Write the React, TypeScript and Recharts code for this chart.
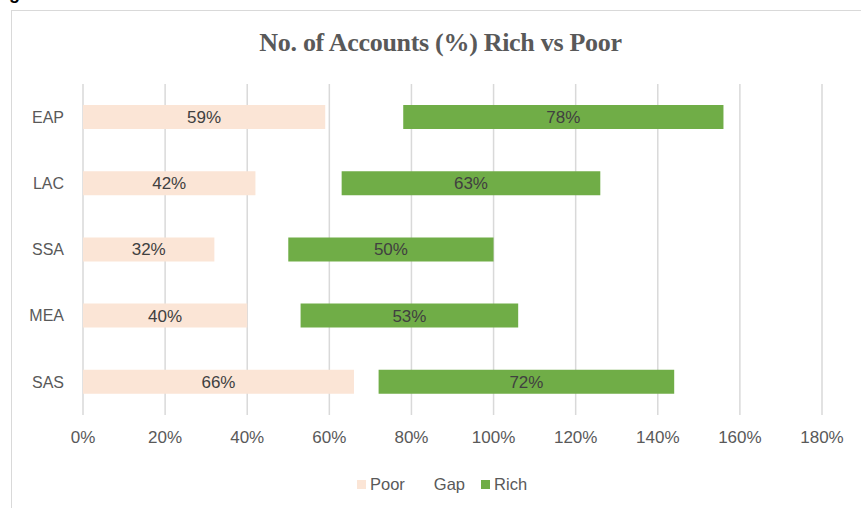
import { Bar, BarChart, CartesianGrid, LabelList, XAxis, YAxis } from "recharts";

const regions = ["EAP", "LAC", "SSA", "MEA", "SAS"];
const poor = [59, 42, 32, 40, 66];
const rich = [78, 63, 50, 53, 72];
const xTicks = [0, 20, 40, 60, 80, 100, 120, 140, 160, 180];

const POOR_COLOR = "#FBE5D6";
const RICH_COLOR = "#70AD47";
const TEXT = "#595959";
const FONT = "'Liberation Sans', Arial, sans-serif";

// gap is the invisible spacer that pushes the rich bar to start at its own value
const data = regions.map((region, i) => ({
  region,
  poor: poor[i],
  gap: rich[i] - poor[i],
  rich: rich[i],
}));

const legendItems = [
  { name: "Poor", color: POOR_COLOR },
  { name: "Gap", color: "transparent" },
  { name: "Rich", color: RICH_COLOR },
];

const pctLabel = (v: unknown) => `${v}%`;

export default function App() {
  return (
    <div style={{ position: "absolute", left: 0, top: 0, width: 861, height: 508, background: "#fff", overflow: "hidden" }}>
      {/* cut-off caption from the page above */}
      <div style={{ position: "absolute", left: 9, top: -17, fontFamily: FONT, fontWeight: 700, fontSize: 18, color: "#000" }}>g</div>
      <div
        style={{
          position: "absolute",
          left: 11,
          top: 10,
          width: 900,
          height: 600,
          border: "1.5px solid #d9d9d9",
          boxSizing: "border-box",
        }}
      />
      <div
        style={{
          position: "absolute",
          left: 0,
          width: 881,
          top: 28,
          textAlign: "center",
          fontFamily: "'Liberation Serif', 'Times New Roman', serif",
          fontWeight: 700,
          fontSize: 26,
          letterSpacing: -0.3,
          color: TEXT,
        }}
      >
        No. of Accounts (%) Rich vs Poor
      </div>
      <div style={{ position: "absolute", left: 0, top: 0 }}>
        <BarChart
          width={861}
          height={508}
          data={data}
          layout="vertical"
          barCategoryGap={21}
          margin={{ top: 84, right: 39, bottom: 63, left: 23 }}
        >
          <CartesianGrid horizontal={false} stroke="#d9d9d9" strokeWidth={1.5} />
          <XAxis
            type="number"
            domain={[0, 180]}
            ticks={xTicks}
            tickFormatter={(v) => `${v}%`}
            axisLine={false}
            tickLine={false}
            tickMargin={10}
            height={30}
            tick={{ fill: TEXT, fontSize: 17, fontFamily: FONT }}
          />
          <YAxis
            type="category"
            dataKey="region"
            width={60}
            axisLine={false}
            tickLine={false}
            tickMargin={13}
            tick={{ fill: TEXT, fontSize: 16, fontFamily: FONT }}
          />
          <Bar dataKey="poor" stackId="a" fill={POOR_COLOR} barSize={24} isAnimationActive={false}>
            <LabelList dataKey="poor" position="center" formatter={pctLabel} fill="#404040" fontSize={17} fontFamily={FONT} />
          </Bar>
          <Bar dataKey="gap" stackId="a" fill="transparent" barSize={24} isAnimationActive={false} />
          <Bar dataKey="rich" stackId="a" fill={RICH_COLOR} barSize={24} isAnimationActive={false}>
            <LabelList dataKey="rich" position="center" formatter={pctLabel} fill="#404040" fontSize={17} fontFamily={FONT} />
          </Bar>
        </BarChart>
      </div>
      <div
        style={{
          position: "absolute",
          top: 475,
          left: 357,
          display: "flex",
          alignItems: "center",
          fontFamily: FONT,
          fontSize: 16.5,
          color: TEXT,
        }}
      >
        {legendItems.map((item) => (
          <div key={item.name} style={{ display: "flex", alignItems: "center", marginRight: 16 }}>
            <span style={{ width: 9, height: 9, background: item.color, marginRight: 4, display: "inline-block" }} />
            <span>{item.name}</span>
          </div>
        ))}
      </div>
    </div>
  );
}
